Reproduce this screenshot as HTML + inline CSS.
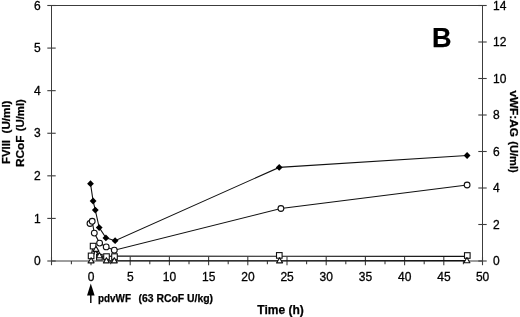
<!DOCTYPE html>
<html><head><meta charset="utf-8"><style>
html,body{margin:0;padding:0;background:#fff;width:520px;height:317px;overflow:hidden}
svg{display:block;filter:grayscale(1)}
text{font-family:"Liberation Sans",sans-serif;font-size:12px;fill:#000;stroke:#000;stroke-width:0.3px}
.b{font-weight:bold;stroke-width:0.25px}
</style></head><body>
<svg width="520" height="317" viewBox="0 0 520 317">
<rect width="520" height="317" fill="#fff"/>
<path d="M51.5 5.5H482.5V261.0H51.5Z" fill="none" stroke="#3c3c3c" stroke-width="1.0"/>
<path d="M47.3 261.00H55.7" stroke="#3c3c3c" stroke-width="1.1"/>
<text x="40.6" y="265.10" text-anchor="end">0</text>
<path d="M47.3 218.42H55.7" stroke="#3c3c3c" stroke-width="1.1"/>
<text x="40.6" y="222.52" text-anchor="end">1</text>
<path d="M47.3 175.83H55.7" stroke="#3c3c3c" stroke-width="1.1"/>
<text x="40.6" y="179.93" text-anchor="end">2</text>
<path d="M47.3 133.25H55.7" stroke="#3c3c3c" stroke-width="1.1"/>
<text x="40.6" y="137.35" text-anchor="end">3</text>
<path d="M47.3 90.67H55.7" stroke="#3c3c3c" stroke-width="1.1"/>
<text x="40.6" y="94.77" text-anchor="end">4</text>
<path d="M47.3 48.08H55.7" stroke="#3c3c3c" stroke-width="1.1"/>
<text x="40.6" y="52.18" text-anchor="end">5</text>
<path d="M47.3 5.50H55.7" stroke="#3c3c3c" stroke-width="1.1"/>
<text x="40.6" y="9.60" text-anchor="end">6</text>
<path d="M478.3 261.00H486.7" stroke="#3c3c3c" stroke-width="1.1"/>
<text x="493" y="265.10">0</text>
<path d="M478.3 224.50H486.7" stroke="#3c3c3c" stroke-width="1.1"/>
<text x="493" y="228.60">2</text>
<path d="M478.3 188.00H486.7" stroke="#3c3c3c" stroke-width="1.1"/>
<text x="493" y="192.10">4</text>
<path d="M478.3 151.50H486.7" stroke="#3c3c3c" stroke-width="1.1"/>
<text x="493" y="155.60">6</text>
<path d="M478.3 115.00H486.7" stroke="#3c3c3c" stroke-width="1.1"/>
<text x="493" y="119.10">8</text>
<path d="M478.3 78.50H486.7" stroke="#3c3c3c" stroke-width="1.1"/>
<text x="493" y="82.60">10</text>
<path d="M478.3 42.00H486.7" stroke="#3c3c3c" stroke-width="1.1"/>
<text x="493" y="46.10">12</text>
<path d="M478.3 5.50H486.7" stroke="#3c3c3c" stroke-width="1.1"/>
<text x="493" y="9.60">14</text>
<path d="M51.50 256.8V265.2" stroke="#3c3c3c" stroke-width="1.1"/>
<path d="M71.40 261V264.3" stroke="#3c3c3c" stroke-width="1.1"/>
<path d="M91.00 256.8V265.2" stroke="#3c3c3c" stroke-width="1.1"/>
<text x="91.10" y="280.9" text-anchor="middle">0</text>
<path d="M110.60 261V264.3" stroke="#3c3c3c" stroke-width="1.1"/>
<path d="M130.20 256.8V265.2" stroke="#3c3c3c" stroke-width="1.1"/>
<text x="130.30" y="280.9" text-anchor="middle">5</text>
<path d="M149.80 261V264.3" stroke="#3c3c3c" stroke-width="1.1"/>
<path d="M169.40 256.8V265.2" stroke="#3c3c3c" stroke-width="1.1"/>
<text x="169.50" y="280.9" text-anchor="middle">10</text>
<path d="M189.00 261V264.3" stroke="#3c3c3c" stroke-width="1.1"/>
<path d="M208.60 256.8V265.2" stroke="#3c3c3c" stroke-width="1.1"/>
<text x="208.70" y="280.9" text-anchor="middle">15</text>
<path d="M228.20 261V264.3" stroke="#3c3c3c" stroke-width="1.1"/>
<path d="M247.80 256.8V265.2" stroke="#3c3c3c" stroke-width="1.1"/>
<text x="247.90" y="280.9" text-anchor="middle">20</text>
<path d="M267.40 261V264.3" stroke="#3c3c3c" stroke-width="1.1"/>
<path d="M287.00 256.8V265.2" stroke="#3c3c3c" stroke-width="1.1"/>
<text x="287.10" y="280.9" text-anchor="middle">25</text>
<path d="M306.60 261V264.3" stroke="#3c3c3c" stroke-width="1.1"/>
<path d="M326.20 256.8V265.2" stroke="#3c3c3c" stroke-width="1.1"/>
<text x="326.30" y="280.9" text-anchor="middle">30</text>
<path d="M345.80 261V264.3" stroke="#3c3c3c" stroke-width="1.1"/>
<path d="M365.40 256.8V265.2" stroke="#3c3c3c" stroke-width="1.1"/>
<text x="365.50" y="280.9" text-anchor="middle">35</text>
<path d="M385.00 261V264.3" stroke="#3c3c3c" stroke-width="1.1"/>
<path d="M404.60 256.8V265.2" stroke="#3c3c3c" stroke-width="1.1"/>
<text x="404.70" y="280.9" text-anchor="middle">40</text>
<path d="M424.20 261V264.3" stroke="#3c3c3c" stroke-width="1.1"/>
<path d="M443.80 256.8V265.2" stroke="#3c3c3c" stroke-width="1.1"/>
<text x="443.90" y="280.9" text-anchor="middle">45</text>
<path d="M463.40 261V264.3" stroke="#3c3c3c" stroke-width="1.1"/>
<path d="M482.50 256.8V265.2" stroke="#3c3c3c" stroke-width="1.1"/>
<text x="482.60" y="280.9" text-anchor="middle">50</text>
<path d="M91.10 260.70L96.00 249.20L99.40 255.50L106.40 260.70L114.30 260.70L279.60 260.70L466.90 260.60" fill="none" stroke="#111" stroke-width="1.1"/>
<path d="M91.10 255.90L93.10 246.10L99.40 257.20L106.50 256.40L114.50 256.10L279.30 256.30L467.30 256.40" fill="none" stroke="#111" stroke-width="1.1"/>
<path d="M90.00 223.50L92.20 221.30L94.30 233.10L99.60 243.10L106.20 246.90L114.30 250.20L280.90 208.50L467.10 185.00" fill="none" stroke="#111" stroke-width="1.1"/>
<path d="M90.50 183.70L93.10 201.00L95.30 210.10L99.20 227.60L105.90 237.90L115.10 240.70L279.20 167.40L467.10 155.50" fill="none" stroke="#111" stroke-width="1.1"/>
<path d="M90.50 180.30L93.90 183.70L90.50 187.10L87.10 183.70Z" fill="#000"/>
<path d="M93.10 197.60L96.50 201.00L93.10 204.40L89.70 201.00Z" fill="#000"/>
<path d="M95.30 206.70L98.70 210.10L95.30 213.50L91.90 210.10Z" fill="#000"/>
<path d="M99.20 224.20L102.60 227.60L99.20 231.00L95.80 227.60Z" fill="#000"/>
<path d="M105.90 234.50L109.30 237.90L105.90 241.30L102.50 237.90Z" fill="#000"/>
<path d="M115.10 237.30L118.50 240.70L115.10 244.10L111.70 240.70Z" fill="#000"/>
<path d="M279.20 164.00L282.60 167.40L279.20 170.80L275.80 167.40Z" fill="#000"/>
<path d="M467.10 152.10L470.50 155.50L467.10 158.90L463.70 155.50Z" fill="#000"/>
<circle cx="90" cy="223.5" r="2.9" fill="#fff" stroke="#111" stroke-width="1.1"/>
<circle cx="92.2" cy="221.3" r="2.9" fill="#fff" stroke="#111" stroke-width="1.1"/>
<circle cx="94.3" cy="233.1" r="2.9" fill="#fff" stroke="#111" stroke-width="1.1"/>
<circle cx="99.6" cy="243.1" r="2.9" fill="#fff" stroke="#111" stroke-width="1.1"/>
<circle cx="106.2" cy="246.9" r="2.9" fill="#fff" stroke="#111" stroke-width="1.1"/>
<circle cx="114.3" cy="250.2" r="2.9" fill="#fff" stroke="#111" stroke-width="1.1"/>
<circle cx="280.9" cy="208.5" r="2.9" fill="#fff" stroke="#111" stroke-width="1.1"/>
<circle cx="467.1" cy="185" r="2.9" fill="#fff" stroke="#111" stroke-width="1.1"/>
<rect x="88.30" y="253.10" width="5.6" height="5.6" fill="#fff" stroke="#111" stroke-width="1.1"/>
<rect x="90.30" y="243.30" width="5.6" height="5.6" fill="#fff" stroke="#111" stroke-width="1.1"/>
<rect x="96.60" y="254.40" width="5.6" height="5.6" fill="#fff" stroke="#111" stroke-width="1.1"/>
<rect x="103.70" y="253.80" width="5.6" height="5.6" fill="#fff" stroke="#111" stroke-width="1.1"/>
<rect x="111.70" y="253.80" width="5.6" height="5.6" fill="#fff" stroke="#111" stroke-width="1.1"/>
<rect x="276.50" y="252.60" width="5.6" height="5.6" fill="#fff" stroke="#111" stroke-width="1.1"/>
<rect x="464.50" y="252.70" width="5.6" height="5.6" fill="#fff" stroke="#111" stroke-width="1.1"/>
<path d="M91.10 257.68L94.10 262.88L88.10 262.88Z" fill="#fff" stroke="#111" stroke-width="1.1" stroke-linejoin="round"/>
<path d="M96.00 246.18L99.00 251.38L93.00 251.38Z" fill="#fff" stroke="#111" stroke-width="1.1" stroke-linejoin="round"/>
<path d="M99.40 252.48L102.40 257.68L96.40 257.68Z" fill="#fff" stroke="#111" stroke-width="1.1" stroke-linejoin="round"/>
<path d="M106.40 257.68L109.40 262.88L103.40 262.88Z" fill="#fff" stroke="#111" stroke-width="1.1" stroke-linejoin="round"/>
<path d="M114.30 257.68L117.30 262.88L111.30 262.88Z" fill="#fff" stroke="#111" stroke-width="1.1" stroke-linejoin="round"/>
<path d="M279.60 257.68L282.60 262.88L276.60 262.88Z" fill="#fff" stroke="#111" stroke-width="1.1" stroke-linejoin="round"/>
<path d="M466.90 257.58L469.90 262.78L463.90 262.78Z" fill="#fff" stroke="#111" stroke-width="1.1" stroke-linejoin="round"/>
<text class="b" x="432" y="47" style="font-size:27px">B</text>
<text class="b" x="280.5" y="313.6" text-anchor="middle">Time (h)</text>
<text class="b" x="98" y="302.3" style="font-size:11px" textLength="33" lengthAdjust="spacingAndGlyphs">pdvWF</text>
<text class="b" x="138.5" y="302.3" style="font-size:11px" textLength="74.5" lengthAdjust="spacingAndGlyphs">(63 RCoF U/kg)</text>
<path d="M90.8 303V294" stroke="#000" stroke-width="1.4"/>
<path d="M90.8 283.5L94.6 295.5L87 295.5Z" fill="#000"/>
<text class="b" transform="translate(10.1 164) rotate(-90)" style="font-size:11px" textLength="24" lengthAdjust="spacingAndGlyphs">FVIII</text>
<text class="b" transform="translate(10.1 133.5) rotate(-90)" style="font-size:11px" textLength="33" lengthAdjust="spacingAndGlyphs">(U/ml)</text>
<text class="b" transform="translate(24.0 167.1) rotate(-90)" style="font-size:11px" textLength="31.5" lengthAdjust="spacingAndGlyphs">RCoF</text>
<text class="b" transform="translate(24.0 131.3) rotate(-90)" style="font-size:11px" textLength="32.2" lengthAdjust="spacingAndGlyphs">(U/ml)</text>
<text class="b" transform="translate(509.9 90.4) rotate(90)" style="font-size:11px" textLength="46.6" lengthAdjust="spacingAndGlyphs">vWF:AG</text>
<text class="b" transform="translate(509.9 141.3) rotate(90)" style="font-size:11px" textLength="31.4" lengthAdjust="spacingAndGlyphs">(U/ml)</text>
</svg>
</body></html>
